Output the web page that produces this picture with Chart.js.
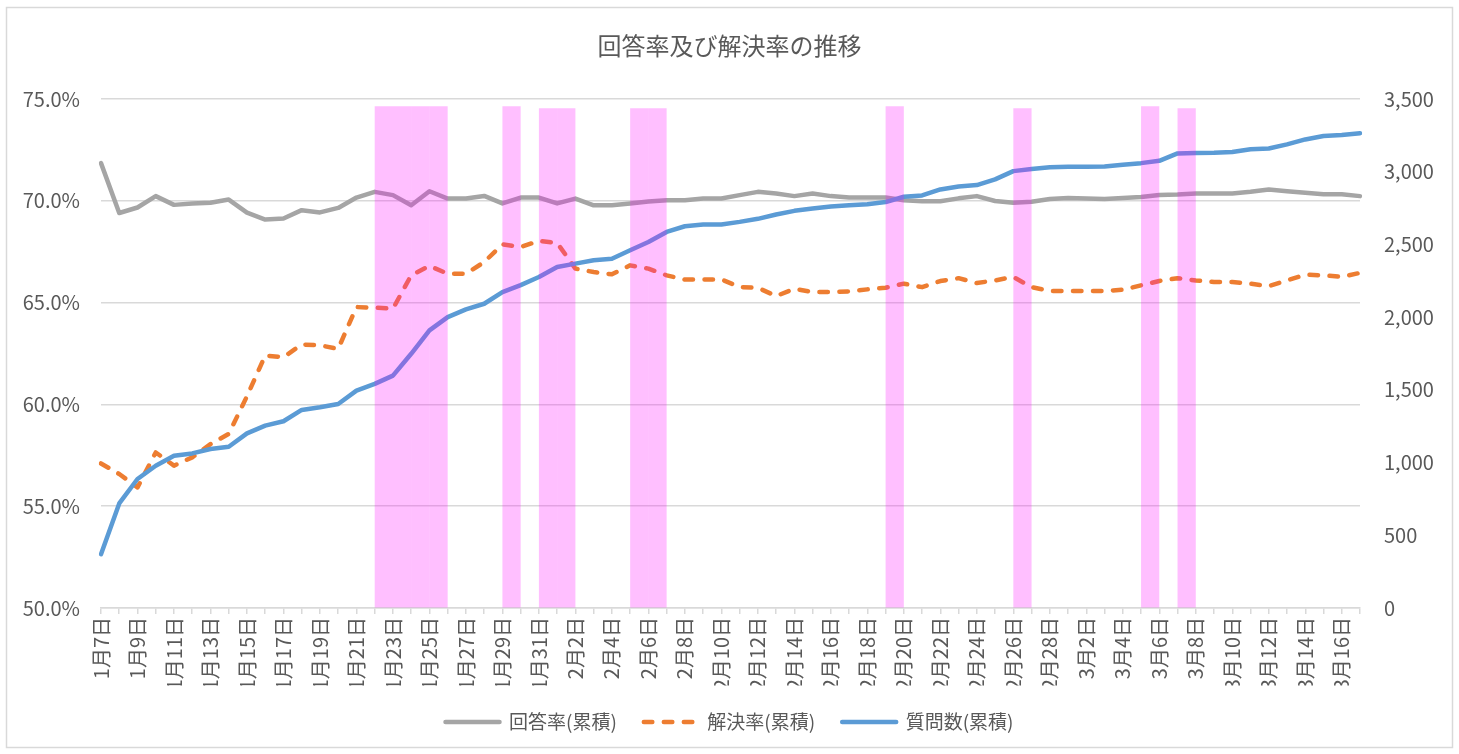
<!DOCTYPE html>
<html lang="ja">
<head>
<meta charset="utf-8">
<title>回答率及び解決率の推移</title>
<script src="https://cdn.jsdelivr.net/npm/chart.js@4.4.1/dist/chart.umd.min.js"></script>
<style>
  html, body { margin: 0; padding: 0; background: #fff; }
  canvas { display: block; }
</style>
</head>
<body>
<canvas id="chart" width="1459" height="754"></canvas>
<script>
// categories: one per day
const dates = [
  "1月7日", "1月8日", "1月9日", "1月10日", "1月11日", "1月12日", "1月13日", "1月14日", "1月15日", "1月16日",
  "1月17日", "1月18日", "1月19日", "1月20日", "1月21日", "1月22日", "1月23日", "1月24日", "1月25日", "1月26日",
  "1月27日", "1月28日", "1月29日", "1月30日", "1月31日", "2月1日", "2月2日", "2月3日", "2月4日", "2月5日",
  "2月6日", "2月7日", "2月8日", "2月9日", "2月10日", "2月11日", "2月12日", "2月13日", "2月14日", "2月15日",
  "2月16日", "2月17日", "2月18日", "2月19日", "2月20日", "2月21日", "2月22日", "2月23日", "2月24日", "2月25日",
  "2月26日", "2月27日", "2月28日", "3月1日", "3月2日", "3月3日", "3月4日", "3月5日", "3月6日", "3月7日",
  "3月8日", "3月9日", "3月10日", "3月11日", "3月12日", "3月13日", "3月14日", "3月15日", "3月16日", "3月17日"
];

// 回答率(累積) %
const answerRate = [
  71.85, 69.40, 69.67, 70.23, 69.80, 69.87, 69.90, 70.06, 69.42, 69.08,
  69.13, 69.54, 69.43, 69.65, 70.16, 70.44, 70.28, 69.78, 70.47, 70.11,
  70.11, 70.24, 69.87, 70.16, 70.16, 69.87, 70.11, 69.78, 69.78, 69.87,
  69.97, 70.03, 70.03, 70.11, 70.11, 70.28, 70.44, 70.36, 70.23, 70.36,
  70.23, 70.16, 70.16, 70.16, 70.03, 69.98, 69.98, 70.12, 70.23, 69.99,
  69.90, 69.95, 70.09, 70.14, 70.11, 70.09, 70.14, 70.19, 70.28, 70.31,
  70.36, 70.36, 70.36, 70.44, 70.56, 70.47, 70.39, 70.32, 70.32, 70.23
];

// 解決率(累積) %
const resolveRate = [
  57.10, 56.58, 55.92, 57.64, 56.99, 57.40, 58.05, 58.55, 60.40, 62.40,
  62.32, 62.94, 62.90, 62.73, 64.78, 64.75, 64.70, 66.34, 66.80, 66.42,
  66.42, 66.99, 67.86, 67.73, 68.03, 67.93, 66.67, 66.50, 66.39, 66.83,
  66.67, 66.34, 66.13, 66.14, 66.14, 65.76, 65.73, 65.32, 65.68, 65.52,
  65.52, 65.55, 65.65, 65.73, 65.93, 65.76, 66.06, 66.20, 65.96, 66.09,
  66.26, 65.76, 65.57, 65.57, 65.57, 65.57, 65.63, 65.85, 66.06, 66.20,
  66.09, 66.01, 66.01, 65.93, 65.81, 66.09, 66.37, 66.34, 66.26, 66.46
];

// 質問数(累積)
const questions = [
  370, 719, 887, 978, 1047, 1063, 1093, 1109, 1201, 1254,
  1284, 1362, 1380, 1403, 1495, 1541, 1598, 1748, 1909, 2000,
  2053, 2092, 2172, 2220, 2276, 2345, 2368, 2391, 2402, 2460,
  2517, 2586, 2625, 2637, 2637, 2655, 2676, 2706, 2731, 2747,
  2761, 2770, 2777, 2791, 2828, 2837, 2878, 2898, 2908, 2947,
  3004, 3018, 3030, 3034, 3034, 3036, 3048, 3059, 3075, 3126,
  3128, 3130, 3135, 3154, 3160, 3188, 3222, 3245, 3252, 3264
];

// pink bands: day the band starts and its height on the right axis
const shadeStart = ["1月22日", "1月23日", "1月24日", "1月25日", "1月29日", "1月31日", "2月1日",
  "2月5日", "2月6日", "2月19日", "2月26日", "3月5日", "3月7日"];
const shadeHeight = [3450, 3450, 3450, 3450, 3450, 3436, 3436, 3436, 3436, 3450, 3436, 3450, 3436];

const leftTicks = [50, 55, 60, 65, 70, 75];
const rightTicks = [0, 500, 1000, 1500, 2000, 2500, 3000, 3500];

// bands sit between two day ticks, so they use their own axis of day-intervals
const intervals = dates.slice(0, -1);
const shadeData = intervals.map(d => {
  const k = shadeStart.indexOf(d);
  return k < 0 ? null : shadeHeight[k];
});

Chart.defaults.font.family = '"Noto Sans CJK JP", "Noto Sans", sans-serif';
Chart.defaults.color = "#595959";

const frame = {
  id: "frame",
  beforeDraw(chart) {
    const ctx = chart.ctx;
    ctx.save();
    ctx.fillStyle = "#fff";
    ctx.fillRect(0, 0, chart.width, chart.height);
    ctx.strokeStyle = "#d9d9d9";
    ctx.lineWidth = 1.5;
    ctx.strokeRect(6.5, 7.5, 1446, 740);
    ctx.restore();
  }
};

// legend keeps dataset order and shows the dash of each line
function legendLabels(chart) {
  const items = Chart.defaults.plugins.legend.labels.generateLabels(chart);
  return items
    .filter(it => it.text !== "band")
    .map(it => {
      const ds = chart.data.datasets[it.datasetIndex];
      it.lineDash = ds.borderDash || [];
      it.lineCap = "round";
      it.lineWidth = ds.borderWidth;
      it.strokeStyle = ds.borderColor;
      return it;
    })
    .sort((a, b) => a.datasetIndex - b.datasetIndex);
}

new Chart(document.getElementById("chart"), {
  type: "line",
  data: {
    labels: dates,
    datasets: [
      {
        type: "bar",
        label: "band",
        data: shadeData,
        xAxisID: "x2",
        yAxisID: "y1",
        backgroundColor: "rgba(255, 0, 255, 0.25)",
        borderWidth: 0,
        inflateAmount: 0,
        barPercentage: 1,
        categoryPercentage: 1,
        grouped: false,
        order: 0
      },
      {
        type: "line",
        label: "回答率(累積)",
        data: answerRate,
        yAxisID: "y",
        borderColor: "#a5a5a5",
        backgroundColor: "#a5a5a5",
        borderWidth: 4.5,
        borderCapStyle: "round",
        borderJoinStyle: "round",
        pointRadius: 0,
        tension: 0,
        order: 3
      },
      {
        type: "line",
        label: "解決率(累積)",
        data: resolveRate,
        yAxisID: "y",
        borderColor: "#ed7d31",
        backgroundColor: "#ed7d31",
        borderWidth: 4.5,
        borderDash: [8.5, 11.5],
        borderCapStyle: "round",
        borderJoinStyle: "round",
        pointRadius: 0,
        tension: 0,
        order: 2
      },
      {
        type: "line",
        label: "質問数(累積)",
        data: questions,
        yAxisID: "y1",
        borderColor: "#5b9bd5",
        backgroundColor: "#5b9bd5",
        borderWidth: 4.5,
        borderCapStyle: "round",
        borderJoinStyle: "round",
        pointRadius: 0,
        tension: 0,
        order: 1
      }
    ]
  },
  options: {
    responsive: false,
    animation: false,
    datasets: {
      bar: { barPercentage: 1, categoryPercentage: 1 }
    },
    layout: { padding: { left: 0, right: 0, top: 0, bottom: 12.5 } },
    plugins: {
      title: {
        display: true,
        text: "回答率及び解決率の推移",
        color: "#595959",
        font: { size: 24, weight: "normal" },
        padding: { top: 31.6, bottom: 38.6 }
      },
      legend: {
        position: "bottom",
        labels: {
          generateLabels: legendLabels,
          usePointStyle: true,
          pointStyle: "line",
          pointStyleWidth: 54,
          padding: 27,
          color: "#595959",
          font: { size: 19 }
        }
      },
      tooltip: { enabled: false }
    },
    scales: {
      x: {
        type: "category",
        offset: false,
        afterFit: s => { s.height = 77.5; },
        grid: { drawOnChartArea: false, drawTicks: true, tickLength: 6, color: "#d9d9d9", lineWidth: 1.5 },
        border: { display: true, color: "#d9d9d9", width: 1.5 },
        ticks: {
          autoSkip: false,
          maxRotation: 90,
          minRotation: 90,
          padding: 3,
          font: { size: 20 },
          callback: function (v, i) { return i % 2 === 0 ? this.getLabelForValue(v) : ""; }
        }
      },
      x2: {
        type: "category",
        position: "bottom",
        labels: intervals,
        offset: true,
        display: false,
        grid: { display: false },
        ticks: { autoSkip: false }
      },
      y: {
        position: "left",
        min: 50,
        max: 75,
        afterFit: s => { s.width = 101; },
        afterBuildTicks: s => { s.ticks = leftTicks.map(v => ({ value: v })); },
        grid: { color: "#d9d9d9", lineWidth: 1.5, drawTicks: false },
        border: { display: false },
        ticks: {
          padding: 21,
          font: { size: 20 },
          callback: v => v.toFixed(1) + "%"
        }
      },
      y1: {
        position: "right",
        min: 0,
        max: 3500,
        afterFit: s => { s.width = 99; },
        afterBuildTicks: s => { s.ticks = rightTicks.map(v => ({ value: v })); },
        grid: { drawOnChartArea: false, drawTicks: false },
        border: { display: false },
        ticks: {
          padding: 24,
          font: { size: 20 },
          callback: v => v.toLocaleString("en-US")
        }
      }
    }
  },
  plugins: [frame]
});
</script>
</body>
</html>
